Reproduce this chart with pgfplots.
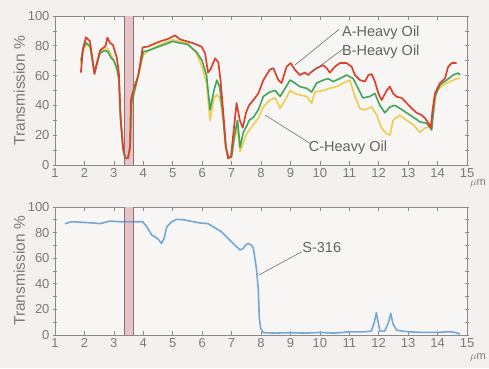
\documentclass[border=0pt]{standalone}
\usepackage{pgfplots}
\pgfplotsset{compat=1.18}
\usepackage{fontspec}
\setmainfont{Liberation Sans}
\definecolor{bgcol}{HTML}{F4F0EF}
\definecolor{txtcol}{HTML}{7A7A7A}
\definecolor{axcol}{HTML}{8A8A8A}
\definecolor{redA}{HTML}{D9432E}
\definecolor{greenB}{HTML}{3FA55A}
\definecolor{yellowC}{HTML}{EFCB4E}
\definecolor{blueS}{HTML}{72A8D8}
\definecolor{bandfill}{HTML}{E6C3C6}
\definecolor{bandedge}{HTML}{8C6E72}
\pgfplotsset{
  myax/.style={
    scale only axis, anchor=south west,
    width=412pt, xmin=1, xmax=15, ymin=0, ymax=100,
    xtick={1,...,15}, ytick={0,20,...,100}, minor ytick={10,30,...,90},
    axis line style={axcol, line width=0.8pt},
    tick style={axcol, line width=0.7pt},
    xtick align=inside, ytick align=center,
    major tick length=4pt, minor tick length=4pt,
    ticklabel style={font=\fontsize{13}{13}\selectfont, text=txtcol},
    /pgf/number format/assume math mode=true,
    ylabel={Transmission \%},
    ylabel style={font=\fontsize{15.5}{15.5}\selectfont, text=txtcol, yshift=-4pt},
    clip=false,
    axis background/.style={fill=bgcol!60!white},
  },
}
\begin{document}
\begin{tikzpicture}
\fill[bgcol] (0,0) rectangle (489pt,368pt);
% ---------- top axis ----------
\begin{axis}[myax, at={(55pt,203pt)}, height=149pt]
\fill[bandfill] (axis cs:3.35,0) rectangle (axis cs:3.65,100);
\addplot[yellowC, line width=1.6pt, line join=round] coordinates {
(1.88,68) (1.95,76) (2.05,81) (2.19,79) (2.34,63) (2.45,71) (2.53,76) (2.7,79) (2.8,78) (2.9,74) (3.0,70) (3.1,64) (3.17,57) (3.23,30) (3.31,11) (3.38,5) (3.48,4.5) (3.55,12) (3.6,40) (3.8,57) (4.0,74) (4.2,77) (4.6,81) (5.0,84) (5.2,83) (5.5,82) (5.8,75) (6.0,66) (6.15,55) (6.27,30) (6.4,45) (6.5,47) (6.6,45) (6.7,33) (6.8,12) (6.9,5) (7.0,5.5) (7.1,18) (7.2,25) (7.29,9) (7.4,15) (7.51,21) (7.74,27) (7.91,31.5) (8.08,39) (8.3,43.6) (8.48,45) (8.65,38) (8.82,43.6) (8.99,50) (9.15,48) (9.32,47) (9.55,46) (9.72,41.5) (9.83,49) (10.12,50) (10.34,51.5) (10.57,52.6) (10.8,55) (11.02,57) (11.19,46) (11.36,38) (11.53,37) (11.76,39) (11.93,33.5) (12.1,24.8) (12.27,21) (12.38,20) (12.49,30) (12.72,33.5) (12.95,30) (13.18,27) (13.4,22) (13.57,24.8) (13.74,25.5) (13.86,35) (13.97,50) (14.2,53.7) (14.42,56) (14.65,58) (14.76,58)
};
\addplot[greenB, line width=1.6pt, line join=round] coordinates {
(1.88,70) (1.95,78) (2.05,82) (2.19,80) (2.34,62) (2.45,70) (2.53,75) (2.7,77) (2.8,76) (2.9,72) (3.0,70) (3.1,65) (3.17,58) (3.23,30) (3.31,11) (3.38,5) (3.48,4.5) (3.55,12) (3.6,42) (3.8,58) (4.0,76) (4.2,77) (4.6,80) (5.0,83) (5.2,82) (5.5,81) (5.8,76) (6.0,70) (6.15,60) (6.27,37) (6.4,50) (6.5,57) (6.6,52) (6.7,35) (6.8,12) (6.9,5) (7.0,5.5) (7.1,20) (7.2,30) (7.29,12) (7.4,22) (7.51,26) (7.6,30) (7.74,32) (7.91,37) (8.08,46) (8.3,49) (8.48,50) (8.65,46) (8.82,51.5) (8.99,57) (9.15,55) (9.32,52.6) (9.55,51.5) (9.72,49) (9.89,55) (10.12,57) (10.28,58) (10.45,56) (10.68,58) (10.91,60.4) (11.13,58) (11.3,51.5) (11.46,45) (11.7,46) (11.87,48) (12.04,40) (12.21,35) (12.38,39) (12.55,40) (12.72,38) (12.95,35) (13.18,32) (13.4,29) (13.63,28) (13.8,23.5) (13.91,46) (14.08,53.7) (14.31,57) (14.53,60.4) (14.7,61.7) (14.76,60.4)
};
\addplot[redA, line width=1.7pt, line join=round] coordinates {
(1.88,62) (1.95,78) (2.05,85.7) (2.19,83) (2.34,61) (2.45,70) (2.53,77) (2.63,78.5) (2.72,80) (2.78,85.5) (2.87,82) (2.97,80.5) (3.1,72) (3.17,62) (3.23,32) (3.31,12) (3.38,5) (3.48,4.5) (3.55,12) (3.58,44) (3.69,52) (3.83,60) (3.98,79) (4.16,79.5) (4.57,83) (4.8,84.3) (5.08,87) (5.25,84.3) (5.48,83) (5.7,81.7) (5.98,79.4) (6.1,75) (6.2,62) (6.29,64.4) (6.44,71.6) (6.55,69) (6.63,56) (6.71,37) (6.81,12) (6.88,4.5) (6.98,5.5) (7.06,21) (7.17,41.6) (7.28,30) (7.38,25) (7.49,35) (7.59,40) (7.74,43.6) (7.91,48) (8.08,57) (8.3,64) (8.42,65) (8.59,57) (8.7,55) (8.87,66) (9.01,68.4) (9.15,64) (9.32,60.4) (9.49,62) (9.6,60.4) (9.72,62.6) (9.89,65) (10.12,67) (10.23,65) (10.34,62) (10.51,66) (10.68,68.4) (10.91,68.4) (11.08,66) (11.19,60.4) (11.36,57) (11.53,56) (11.65,60.4) (11.76,61) (11.87,56) (11.99,48) (12.1,43.6) (12.27,50) (12.38,52.6) (12.49,48) (12.61,45.8) (12.78,45) (12.95,41.5) (13.12,38) (13.29,35) (13.46,33.5) (13.57,31.5) (13.69,28) (13.77,24.8) (13.83,37) (13.91,48) (14.08,55) (14.25,58) (14.36,66) (14.48,68.4) (14.65,68.4)
};
\draw[bandedge, line width=0.8pt] (axis cs:3.35,0) -- (axis cs:3.35,100) (axis cs:3.65,0) -- (axis cs:3.65,100);
\draw[txtcol!90!black, line width=0.6pt] (axis cs:10.65,91) -- (axis cs:9.15,67);
\draw[txtcol!90!black, line width=0.6pt] (axis cs:10.8,78) -- (axis cs:9.7,62);
\draw[txtcol!90!black, line width=0.6pt] (axis cs:9.66,14.6) -- (axis cs:8.14,33.5);
\node[anchor=west, text=txtcol!80!black, font=\fontsize{14.5}{14.5}\selectfont, inner sep=0pt] at (axis cs:10.75,89) {A-Heavy Oil};
\node[anchor=west, text=txtcol!80!black, font=\fontsize{14.5}{14.5}\selectfont, inner sep=0pt] at (axis cs:10.75,76) {B-Heavy Oil};
\node[anchor=west, text=txtcol!80!black, font=\fontsize{14.5}{14.5}\selectfont, inner sep=0pt] at (axis cs:9.62,11.5) {C-Heavy Oil};
\node[anchor=west, text=txtcol, font=\fontsize{11}{11}\selectfont, inner sep=0pt] at (axis cs:15.1,-12.5) {$\mu$m};
\end{axis}
% ---------- bottom axis ----------
\begin{axis}[myax, at={(55pt,33pt)}, height=128pt]
\fill[bandfill] (axis cs:3.35,0) rectangle (axis cs:3.65,100);
\addplot[blueS, line width=1.6pt, line join=round] coordinates {
(1.34,87) (1.57,88.5) (1.95,88) (2.3,87.5) (2.53,87) (2.87,89) (3.2,88.5) (3.66,88.5) (3.98,88.5) (4.12,84.6) (4.29,78) (4.4,76.6) (4.5,75) (4.62,71.6) (4.7,75) (4.8,84.6) (4.97,88.5) (5.14,90.4) (5.36,90) (5.7,88.5) (5.9,87.6) (6.2,87) (6.37,84.6) (6.66,80.7) (6.95,74) (7.12,70) (7.29,66.4) (7.4,67.7) (7.46,70) (7.57,71.6) (7.68,70) (7.74,68) (7.85,50.8) (7.91,35) (7.94,14) (7.99,5) (8.08,1.8) (8.5,1.5) (9,1.8) (9.5,1.5) (10,2) (10.5,1.5) (11.02,2.5) (11.5,2.5) (11.75,3) (11.85,10) (11.92,17.4) (11.98,10) (12.04,3) (12.2,3) (12.32,9) (12.41,16.8) (12.48,9) (12.61,3.7) (13,2.5) (13.5,2) (14,2) (14.4,2.6) (14.6,2) (14.76,0.8)
};
\draw[bandedge, line width=0.8pt] (axis cs:3.35,0) -- (axis cs:3.35,100) (axis cs:3.65,0) -- (axis cs:3.65,100);
\draw[txtcol!90!black, line width=0.6pt] (axis cs:9.38,65) -- (axis cs:7.94,47);
\node[anchor=west, text=txtcol!80!black, font=\fontsize{14.5}{14.5}\selectfont, inner sep=0pt] at (axis cs:9.4,68.5) {S-316};
\node[anchor=west, text=txtcol, font=\fontsize{11}{11}\selectfont, inner sep=0pt] at (axis cs:15.1,-18) {$\mu$m};
\end{axis}
\end{tikzpicture}
\end{document}
